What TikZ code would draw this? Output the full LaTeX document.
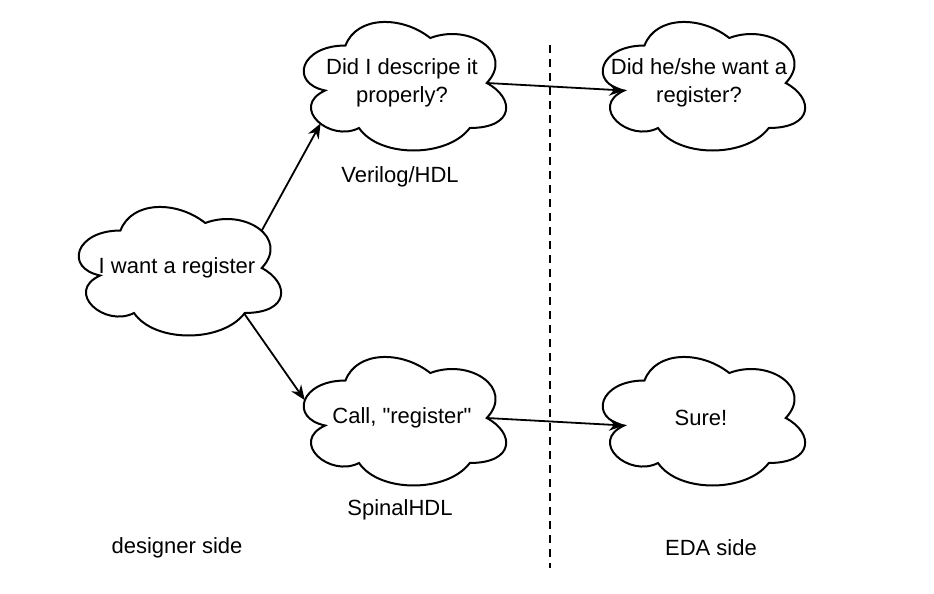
\documentclass[tikz,border=0pt]{standalone}
\usepackage{fontspec}
\setmainfont{Liberation Sans}
\usepackage{tikz}
\usetikzlibrary{arrows.meta}
\tikzset{
  cloudtext/.style={align=center, inner sep=0pt, font=\fontsize{11}{14}\selectfont},
  sidetext/.style={inner sep=0pt, font=\fontsize{11}{14}\selectfont},
  cloudline/.style={black, line width=1pt, x=113pt, y=-75pt},
  flow/.style={black, line width=0.9pt, -{Stealth[length=7.5pt, width=6pt]}},
}

\begin{document}
\begin{tikzpicture}[x=0.5pt, y=-0.5pt]
\useasboundingbox (0, 0) rectangle (934, 594);
% designer side
\node[cloudtext] (want) at (177, 268) {I want a register};
\node[cloudtext] (hdl) at (402, 83) {Did I descripe it\\properly?};
\node[cloudtext] (spinal) at (402, 418) {Call, \textquotedbl register\textquotedbl};
\node[sidetext] (verilog) at (400, 177) {Verilog/HDL};
\node[sidetext] (spinalname) at (400, 510) {SpinalHDL};
\node[sidetext] (designer) at (177, 548) {designer side};
% EDA side
\node[cloudtext] (eda) at (699, 83) {Did he/she want a\\register?};
\node[cloudtext] (sure) at (701, 418) {Sure!};
\node[sidetext] (edaside) at (711, 548) {EDA side};

\foreach \n in {want, hdl, spinal, sure} {
  \draw[cloudline, shift={(\n.center)}] (-0.25,-0.25)
    .. controls (-0.45,-0.25) and (-0.5,0) .. (-0.34,0.05)
    .. controls (-0.5,0.16) and (-0.32,0.4) .. (-0.19,0.3)
    .. controls (-0.1,0.5) and (0.2,0.5) .. (0.3,0.3)
    .. controls (0.5,0.3) and (0.5,0.1) .. (0.375,0)
    .. controls (0.5,-0.2) and (0.3,-0.4) .. (0.125,-0.3)
    .. controls (0,-0.45) and (-0.2,-0.45) .. (-0.25,-0.25) -- cycle;
}
\draw[cloudline, shift={([xshift=1pt]eda.center)}] (-0.25,-0.25)
  .. controls (-0.45,-0.25) and (-0.5,0) .. (-0.34,0.05)
  .. controls (-0.5,0.16) and (-0.32,0.4) .. (-0.19,0.3)
  .. controls (-0.1,0.5) and (0.2,0.5) .. (0.3,0.3)
  .. controls (0.5,0.3) and (0.5,0.1) .. (0.375,0)
  .. controls (0.5,-0.2) and (0.3,-0.4) .. (0.125,-0.3)
  .. controls (0,-0.45) and (-0.2,-0.45) .. (-0.25,-0.25) -- cycle;

% where the arrows meet the clouds
\coordinate (want-ne) at ([shift={(42.1pt, 18.2pt)}]want.center);
\coordinate (want-se) at ([shift={(33.4pt, -22.5pt)}]want.center);
\coordinate (hdl-sw) at ([shift={(-40.7pt, -20.2pt)}]hdl.center);
\coordinate (hdl-e) at ([shift={(42.4pt, 0pt)}]hdl.center);
\coordinate (spinal-w) at ([shift={(-48.6pt, 8.9pt)}]spinal.center);
\coordinate (spinal-e) at ([shift={(42.4pt, 0pt)}]spinal.center);
\coordinate (eda-w) at ([shift={(-37.4pt, -3.75pt)}]eda.center);
\coordinate (sure-w) at ([shift={(-38.4pt, -3.75pt)}]sure.center);

\draw[flow] (want-ne) -- (hdl-sw);
\draw[flow] (want-se) -- (spinal-w);
\draw[flow] (hdl-e) -- (eda-w);
\draw[flow] (spinal-e) -- (sure-w);

% split line
\coordinate (split-top) at (550, 45);
\coordinate (split-bot) at (550, 568);
\draw[black, line width=0.9pt, dash pattern=on 4pt off 3pt] (split-top) -- (split-bot);
\end{tikzpicture}
\end{document}
